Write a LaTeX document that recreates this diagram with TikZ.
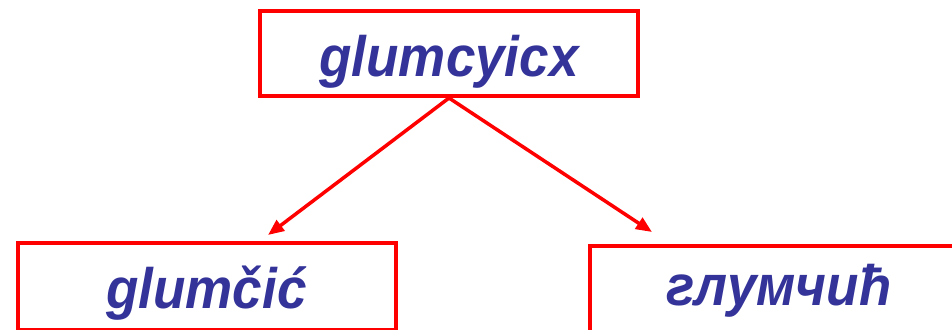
\documentclass[tikz,border=0pt]{standalone}
\usepackage{fontspec}
\usetikzlibrary{arrows.meta}
\newfontfamily\wordfont[FakeStretch=0.93]{Liberation Sans}
\definecolor{wordRed}{HTML}{FF0000}
\definecolor{wordInk}{HTML}{333399}
\tikzset{
  every picture/.style={font=\wordfont\bfseries\itshape\fontsize{57}{60}\selectfont, text=wordInk},
  word box/.style={draw=wordRed, line width=4pt, fill=white, minimum width=378pt,
    minimum height=85pt, inner sep=0pt, text height=57pt, text depth=12pt},
  word arrow/.style={-{Triangle[length=16pt,width=13pt]}, draw=wordRed, line width=3.5pt}
}

\begin{document}
\begin{tikzpicture}[x=1pt, y=-1pt]
  \clip (0,0) rectangle (952,329);
  \node[word box] (source) at (449,53.5) {glumcyicx};
  \node[word box, minimum height=87pt, text height=56pt] (latin) at (206.5,286) {glumčić};
  \node[word box, minimum height=92pt, text height=40pt] (cyrillic) at (779,291.5) {глумчић};
  % free ends just above the two lower boxes
  \coordinate (latin tip) at (268,235);
  \coordinate (cyrillic tip) at (652,232);
  \draw[word arrow] (source.south) -- (latin tip);
  \draw[word arrow] (source.south) -- (cyrillic tip);
\end{tikzpicture}
\end{document}
